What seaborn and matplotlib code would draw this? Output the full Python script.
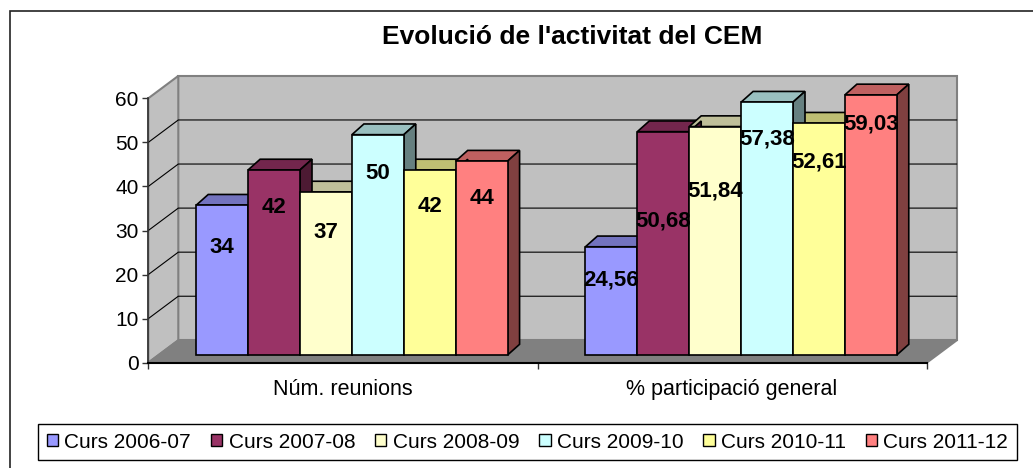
import matplotlib
matplotlib.use("Agg")
import matplotlib.pyplot as plt
from matplotlib.patches import Polygon, Rectangle, Patch
from matplotlib.transforms import ScaledTranslation
import numpy as np
import pandas as pd
import seaborn as sns

# ---- data -------------------------------------------------------------
categories = ["Núm. reunions", "% participació general"]
courses = ["Curs 2006-07", "Curs 2007-08", "Curs 2008-09",
           "Curs 2009-10", "Curs 2010-11", "Curs 2011-12"]
num_reunions = [34, 42, 37, 50, 42, 44]
participacio = [24.56, 50.68, 51.84, 57.38, 52.61, 59.03]
colors = ["#9999FF", "#993366", "#FFFFCC", "#CCFFFF", "#FFFF99", "#FF8080"]
y_ticks = [0, 10, 20, 30, 40, 50, 60]
title = "Evolució de l'activitat del CEM"

# where each value label sits: distance below the bar top (value units)
label_drop = {
    categories[0]: [9.7, 8.6, 9.1, 8.9, 8.2, 8.4],
    categories[1]: [7.5, 20.3, 14.6, 8.3, 8.8, 6.6],
}

sns.set_style("white")
plt.rcParams["font.family"] = ["Liberation Sans", "DejaVu Sans"]
plt.rcParams.update({
    "text.color": "black",
    "axes.labelcolor": "black",
    "xtick.color": "black",
    "ytick.color": "black",
})

df = pd.DataFrame({
    "categoria": np.repeat(categories, len(courses)),
    "curs": courses * len(categories),
    "valor": num_reunions + participacio,
})

FIG_W, FIG_H, DPI = 1033, 468, 100
fig = plt.figure(figsize=(FIG_W / DPI, FIG_H / DPI), dpi=DPI)
fig.patch.set_facecolor("white")

# front plane of the plot box (pixels)
left, right, top, bottom = 148.3, 926.7, 98.3, 362.7
ax = fig.add_axes([left / FIG_W, 1 - bottom / FIG_H,
                   (right - left) / FIG_W, (bottom - top) / FIG_H])
ax.set_facecolor("none")

sns.barplot(data=df, x="categoria", y="valor", hue="curs",
            order=categories, hue_order=courses, palette=colors,
            width=0.8, saturation=1, edgecolor="black", linewidth=1.2,
            legend=False, ax=ax, zorder=4)

YMAX = y_ticks[-1]
ax.set_xlim(-0.5, len(categories) - 0.5)
ax.set_ylim(0, YMAX)

W_px, H_px = right - left, bottom - top


def px(dx, dy):
    """Convert a pixel offset into data units of the front plane."""
    return dx * len(categories) / W_px, dy * YMAX / H_px


# ---- pseudo-3D walls and floor ---------------------------------------
wall_dx, wall_dy = px(30, 22.4)
x0, x1 = -0.5, len(categories) - 0.5
wall_kw = dict(closed=True, clip_on=False, lw=1.5)
ax.add_patch(Polygon([(x0 + wall_dx, wall_dy), (x1 + wall_dx, wall_dy),
                      (x1 + wall_dx, YMAX + wall_dy), (x0 + wall_dx, YMAX + wall_dy)],
                     fc="#C0C0C0", ec="#808080", zorder=0.5, **wall_kw))
ax.add_patch(Polygon([(x0, 0), (x0 + wall_dx, wall_dy),
                      (x0 + wall_dx, YMAX + wall_dy), (x0, YMAX)],
                     fc="#C0C0C0", ec="#808080", zorder=0.5, **wall_kw))
for y in y_ticks[1:-1]:
    ax.plot([x0, x0 + wall_dx, x1 + wall_dx], [y, y + wall_dy, y + wall_dy],
            color="black", lw=0.8, zorder=0.7, clip_on=False)
ax.add_patch(Polygon([(x0, 0), (x1, 0), (x1 + wall_dx, wall_dy), (x0 + wall_dx, wall_dy)],
                     fc="#808080", ec="#808080", zorder=0.8, **wall_kw))

# ---- 3D bars: shift onto the bar plane and add top / side faces -------
bar_shift = ax.transData + ScaledTranslation(9 / DPI, 7.7 / DPI, fig.dpi_scale_trans)
ddx, ddy = px(12, 10.7)

for hue_idx, container in enumerate(ax.containers):
    for cat_idx, bar in enumerate(container):
        bar.set_transform(bar_shift)
        bar.set_clip_on(False)
        x, w, h = bar.get_x(), bar.get_width(), bar.get_height()
        rgb = np.array(bar.get_facecolor()[:3])
        ax.add_patch(Polygon([(x, h), (x + w, h), (x + w + ddx, h + ddy), (x + ddx, h + ddy)],
                             closed=True, fc=rgb * 0.75, ec="black", lw=1.2,
                             transform=bar_shift, zorder=3, clip_on=False))
        ax.add_patch(Polygon([(x + w, 0), (x + w + ddx, ddy), (x + w + ddx, h + ddy), (x + w, h)],
                             closed=True, fc=rgb * 0.5, ec="black", lw=1.2,
                             transform=bar_shift, zorder=3.5, clip_on=False))
        drop = label_drop[categories[cat_idx]][hue_idx]
        ax.text(x + w / 2, h - drop, f"{h:g}".replace(".", ","),
                transform=bar_shift, ha="center", va="center", color="black",
                fontsize=16, fontweight="bold", zorder=6, clip_on=False)

# ---- axes -------------------------------------------------------------
for s in ("top", "right"):
    ax.spines[s].set_visible(False)
ax.spines["left"].set_color("#333333")
ax.spines["left"].set_linewidth(1.2)
ax.spines["bottom"].set_color("black")
ax.spines["bottom"].set_linewidth(1.5)
ax.spines["left"].set_zorder(2)
ax.spines["bottom"].set_zorder(2)

ax.set_yticks(y_ticks)
ax.set_xticks(range(len(categories)), categories)
ax.set_xticks([x0 + i for i in range(len(categories) + 1)], minor=True)
ax.tick_params(axis="y", left=True, length=4, width=1, color="#333333",
               labelsize=15, labelcolor="black", pad=3, direction="out")
ax.tick_params(axis="x", which="major", bottom=True, length=0, labelsize=15.5,
               labelcolor="black", pad=12)
ax.tick_params(axis="x", which="minor", bottom=True, length=4, width=1,
               color="#333333", direction="out")
ax.set_xlabel("")
ax.set_ylabel("")

# ---- title, legend, outer frame ---------------------------------------
fig.text(572 / FIG_W, 1 - 37 / FIG_H, title, ha="center", va="center",
         fontsize=19, fontweight="bold", color="black")

handles = [Patch(facecolor=c, edgecolor="black", linewidth=1.0) for c in colors]
leg = fig.legend(handles, courses, loc="center",
                 bbox_to_anchor=(527.5 / FIG_W, 1 - 442 / FIG_H), ncol=len(courses),
                 fontsize=15, frameon=True, fancybox=False, edgecolor="black",
                 framealpha=1, handlelength=0.55, handleheight=0.55,
                 handletextpad=0.3, columnspacing=0.95, borderpad=0.4,
                 borderaxespad=0, labelcolor="black")
leg.get_frame().set_linewidth(1.0)

fig.add_artist(Rectangle((10 / FIG_W, -0.1), 1.2, (1 - 11 / FIG_H) + 0.1,
                         transform=fig.transFigure, fill=False,
                         ec="#222222", lw=1.2))

fig.savefig("out.png", dpi=DPI)
